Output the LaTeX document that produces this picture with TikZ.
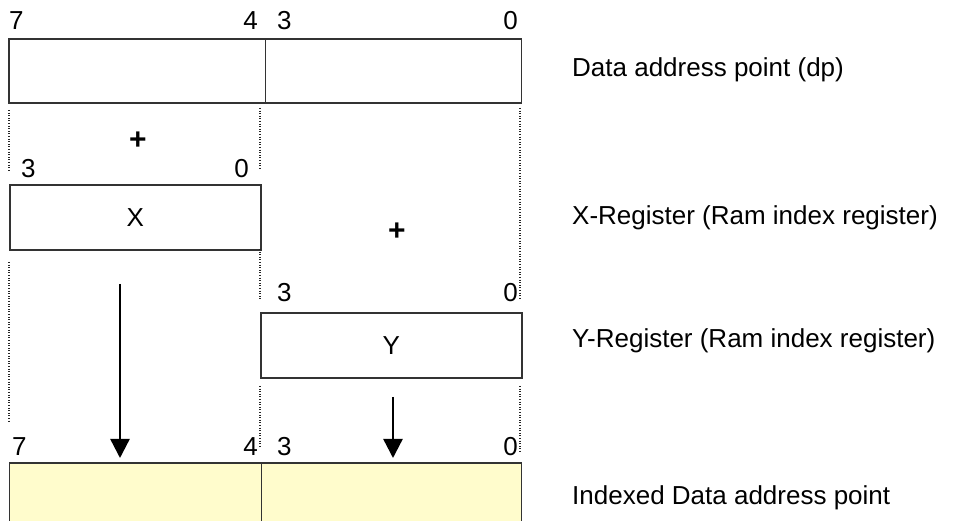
\documentclass[tikz,border=0pt]{standalone}
\usepackage{fontspec}
\setmainfont{Liberation Sans}
\usetikzlibrary{arrows.meta}
\begin{document}
\begin{tikzpicture}[x=1pt,y=-1pt,
  reg/.style={draw=black!80, line width=1.6pt, inner sep=0pt, anchor=north west},
  guide/.style={line width=1.1pt, dash pattern=on 1pt off 1.6pt, black!85},
  txt/.style={font=\fontsize{26}{30}\selectfont, inner sep=0pt},
  plus/.style={font=\bfseries\fontsize{30}{30}\selectfont, inner sep=0pt},
  flow/.style={line width=2.4pt, shorten >=4pt, -{Triangle[width=19pt,length=19pt]}}]
\useasboundingbox (0,0) rectangle (954,521);
\clip (0,0) rectangle (954,521);

% data address point
\node[reg, minimum width=256.5pt, minimum height=64pt] (dph) at (8,38) {};
\node[reg, minimum width=256pt, minimum height=64pt] (dpl) at (264.5,38) {};
\node[txt, anchor=base west] (b7a) at (9,30) {7};
\node[txt, anchor=base east] (b4a) at (258,30) {4};
\node[txt, anchor=base west] (b3a) at (277,30) {3};
\node[txt, anchor=base east] (b0a) at (518,30) {0};
\node[txt, anchor=base west] (ldp) at (572,77) {Data address point (dp)};

% X register
\node[reg, minimum width=251pt, minimum height=65pt] (xr) at (9,184) {};
\node[txt] (xl) at (xr.center) {X};
\node[txt, anchor=base west] (b3x) at (21,178) {3};
\node[txt, anchor=base east] (b0x) at (249,178) {0};
\node[txt, anchor=base west] (lx) at (572,225) {X-Register (Ram index register)};

% Y register
\node[reg, minimum width=261pt, minimum height=65pt] (yr) at (260,312) {};
\node[txt] (yl) at (yr.center) {Y};
\node[txt, anchor=base west] (b3y) at (277,302) {3};
\node[txt, anchor=base east] (b0y) at (518,302) {0};
\node[txt, anchor=base west] (ly) at (572,348) {Y-Register (Ram index register)};

% plus signs
\node[plus] (p1) at (138,141) {+};
\node[plus] (p2) at (397,232) {+};

% indexed data address point
\node[reg, fill=yellow!20, minimum width=252pt, minimum height=90pt] (ih) at (8.5,462) {};
\node[reg, fill=yellow!20, minimum width=260pt, minimum height=90pt] (il) at (260.5,462) {};
\node[txt, anchor=base west] (b7b) at (12,456) {7};
\node[txt, anchor=base east] (b4b) at (258,456) {4};
\node[txt, anchor=base west] (b3b) at (277,456) {3};
\node[txt, anchor=base east] (b0b) at (518,456) {0};
\node[txt, anchor=base west] (li) at (572,504) {Indexed Data address point};

% guide lines
\draw[guide] (9,110) -- (9,172);
\draw[guide] (9,262) -- (9,422);
\draw[guide] (260,108) -- (260,170);
\draw[guide] (260,249) -- (260,300);
\draw[guide] (260,386) -- (260,448);
\draw[guide] (520,108) -- (520,299);
\draw[guide] (520,386) -- (520,453);

% arrows
\coordinate (ax) at (120,284);
\coordinate (ay) at (393,397);
\draw[flow] (ax) -- (ax |- ih.north);
\draw[flow] (ay) -- (ay |- il.north);
\end{tikzpicture}
\end{document}
